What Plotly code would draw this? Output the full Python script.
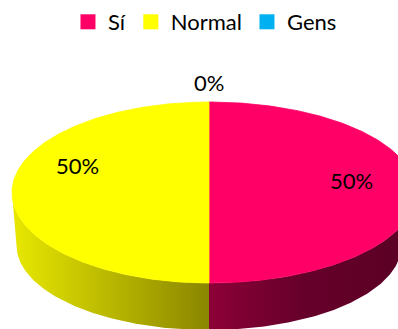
import numpy as np
import plotly.graph_objects as go

# Survey answers (percent of responses)
categories = ["Sí", "Normal", "Gens"]
values = [50, 50, 0]

# Face colours and shaded side-wall gradients for each slice
face_colors = ["#FF0066", "#FFFF00", "#00B0F0"]
side_scales = [
    [[0, "#8C0038"], [0.45, "#66002A"], [1, "#5A0024"]],
    [[0, "#E8E800"], [1, "#8A8600"]],
    [[0, "#0090C8"], [1, "#005A80"]],
]

W, H = 398, 329
FONT = "Lato"

# Tilted-disc geometry (pixel units on the hidden axes)
CX, CY = 209.0, 192.5          # centre of the top face
RX_L, RX_R, RY = 197.0, 207.0, 90.5
BCY, BRX, BRY = 245.5, 192.5, 84.5   # bottom rim (slightly smaller: perspective)


def top_xy(t):
    rx = np.where(np.sin(t) >= 0, RX_R, RX_L)
    return CX + rx * np.sin(t), CY - RY * np.cos(t)


def bottom_xy(t):
    return CX + BRX * np.sin(t), BCY - BRY * np.cos(t)


total = float(sum(values))
fracs = [v / total for v in values]
starts = np.concatenate([[0.0], np.cumsum(fracs)[:-1]]) * 2 * np.pi
ends = np.cumsum(fracs) * 2 * np.pi

fig = go.Figure()

# Side walls: only the front half (3 o'clock -> 6 -> 9 o'clock) is visible
for i, (a, b) in enumerate(zip(starts, ends)):
    lo, hi = max(a, np.pi / 2), min(b, 3 * np.pi / 2)
    if hi <= lo:
        continue
    t = np.linspace(lo, hi, 120)
    tx, ty = top_xy(t)
    bx, by = bottom_xy(t[::-1])
    xs = np.concatenate([tx, bx, tx[:1]])
    ys = np.concatenate([ty, by, ty[:1]])
    fig.add_trace(go.Scatter(
        x=xs, y=ys, mode="lines", fill="toself",
        line=dict(width=0),
        fillgradient=dict(type="horizontal", colorscale=side_scales[i],
                          start=float(min(xs.min(), CX)), stop=float(max(xs.max(), CX))),
        hoverinfo="skip", showlegend=False,
    ))

# Top faces
for i, (a, b) in enumerate(zip(starts, ends)):
    if b - a <= 0:
        continue
    t = np.linspace(a, b, 240)
    tx, ty = top_xy(t)
    xs = np.concatenate([[CX], tx, [CX]])
    ys = np.concatenate([[CY], ty, [CY]])
    fig.add_trace(go.Scatter(
        x=xs, y=ys, mode="lines", fill="toself",
        fillcolor=face_colors[i], line=dict(width=0.8, color=face_colors[i]),
        hoverinfo="skip", showlegend=False,
    ))

# Legend entries
for name, c in zip(categories, face_colors):
    fig.add_trace(go.Scatter(
        x=[None], y=[None], mode="markers", name=name,
        marker=dict(symbol="square", size=15, color=c),
    ))

# Percentage labels, placed along each slice's mid angle
label_radius = [0.69, 0.67, 1.22]
label_lift = [12, 27, 0]
for i, (a, b) in enumerate(zip(starts, ends)):
    tm = (a + b) / 2
    rx = RX_R if np.sin(tm) >= 0 else RX_L
    f = label_radius[i]
    lx = CX + rx * f * np.sin(tm)
    ly = CY - RY * f * np.cos(tm)
    fig.add_annotation(
        x=lx, y=ly, xref="x", yref="y", showarrow=False,
        text=f"{round(fracs[i] * 100)}%", yshift=label_lift[i],
        font=dict(family=FONT, size=22, color="#000000"),
    )

fig.update_layout(
    width=W, height=H,
    margin=dict(l=0, r=0, t=0, b=0),
    paper_bgcolor="white", plot_bgcolor="white",
    xaxis=dict(range=[0, W], visible=False, fixedrange=True),
    yaxis=dict(range=[H, 0], visible=False, fixedrange=True),
    showlegend=True,
    legend=dict(
        orientation="h", x=0.515, xanchor="center", y=0.997, yanchor="top",
        font=dict(family=FONT, size=22, color="#000000"),
        itemwidth=30, bgcolor="rgba(0,0,0,0)",
    ),
)

fig.write_html("out.html")
